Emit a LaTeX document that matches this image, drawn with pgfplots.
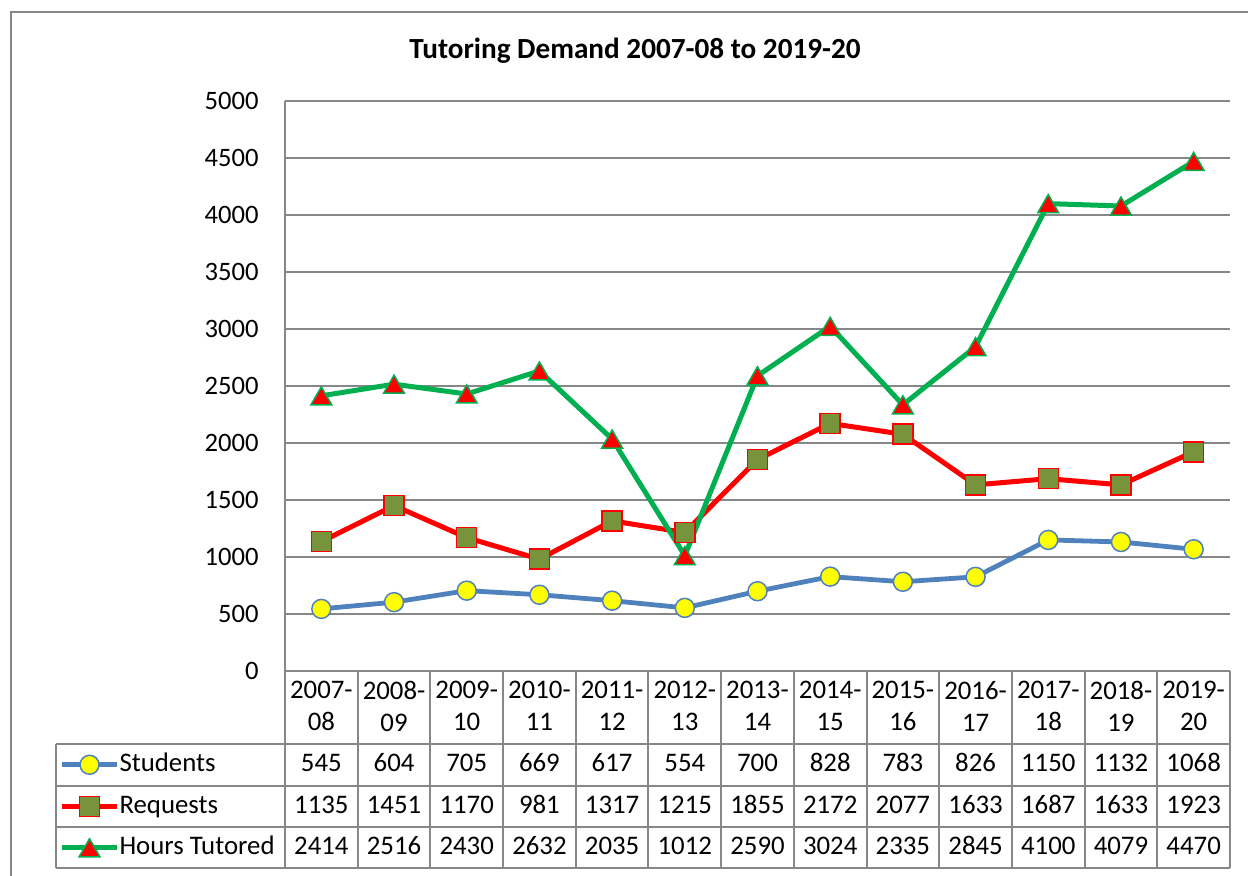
\documentclass[border=0pt]{standalone}
\usepackage{pgfplots}
\pgfplotsset{compat=1.18}
\usepackage{pgfplotstable}
\usepackage{fontspec}
\setmainfont{Carlito}
\definecolor{sblue}{HTML}{4F81BD}
\definecolor{syellow}{HTML}{FFFF00}
\definecolor{rred}{HTML}{FF0000}
\definecolor{rolive}{HTML}{77933C}
\definecolor{hgreen}{HTML}{00B050}
\definecolor{gridgray}{HTML}{878787}
\newcommand{\tickfont}{\fontsize{13.3}{16}\selectfont}
\newcommand{\tabfont}{\fontsize{13.4}{15.85}\selectfont}

\pgfplotstableread{
x students requests hours
0 545 1135 2414
1 604 1451 2516
2 705 1170 2430
3 669 981 2632
4 617 1317 2035
5 554 1215 1012
6 700 1855 2590
7 828 2172 3024
8 783 2077 2335
9 826 1633 2845
10 1150 1687 4100
11 1132 1633 4079
12 1068 1923 4470
}\datatable

\pgfplotsset{
  keyimg/.style={legend image code/.code={
    \path[draw=none,fill=none] (0pt,0pt) (30.9pt,0pt);
    \draw[##1, mark repeat=2, mark phase=2] plot coordinates {(3pt,0pt) (16.75pt,0pt) (30.5pt,0pt)};
  }}
}

\begin{document}
\begin{tikzpicture}
\useasboundingbox (0,0) rectangle (624pt,-437.5pt);
\begin{scope}[x=0.5pt,y=-0.5pt]
  \draw[gridgray, line width=0.75pt] (11,880) -- (11,12) -- (1260,12);
\end{scope}

\node[font=\bfseries\fontsize{14.6}{17}\selectfont, anchor=base, inner sep=0pt] at (317.5pt,-29pt) {Tutoring Demand 2007-08 to 2019-20};

\begin{axis}[
  scale only axis, width=472.5pt, height=285pt,
  at={(142.5pt,-335.5pt)}, anchor=south west,
  xmin=-0.5, xmax=12.5, ymin=0, ymax=5000,
  xtick={0,...,12},
  xticklabels={{2007-\\08},{2008-\\09},{2009-\\10},{2010-\\11},{2011-\\12},{2012-\\13},{2013-\\14},{2014-\\15},{2015-\\16},{2016-\\17},{2017-\\18},{2018-\\19},{2019-\\20}},
  ytick={0,500,...,5000},
  axis x line*=bottom, axis y line*=left,
  axis line style={gridgray, line width=1pt},
  ymajorgrids, grid style={gridgray, line width=1pt},
  major tick length=0pt, tick style={draw=none},
  yticklabel style={font=\tickfont, inner sep=0pt, xshift=-13pt, anchor=east},
  xticklabel style={font=\tabfont, align=center, inner sep=0pt, anchor=north, yshift=-5pt},
  /pgf/number format/assume math mode=true,
  /pgf/number format/1000 sep={},
  scaled y ticks=false,
  clip=false,
  legend style={at={(axis description cs:-0.2423,-0.1281)}, anchor=north west, draw=none, fill=none,
    inner sep=0pt, outer sep=0pt, row sep=0pt, column sep=0pt, font=\tabfont,
    nodes={inner sep=0pt, text height=13.85pt, text depth=6.9pt}},
  legend cell align=left,
]
\addplot[keyimg, sblue, line width=2.4pt, mark=*, mark size=4.75pt,
  mark options={fill=syellow, draw=sblue, line width=0.75pt}] table[x=x, y=students]{\datatable};
\addlegendentry{Students}
\addplot[keyimg, rred, line width=2.5pt, mark=square*, mark size=5pt,
  mark options={fill=rolive, draw=rred, line width=0.75pt}] table[x=x, y=requests]{\datatable};
\addlegendentry{Requests}
\addplot[keyimg, hgreen, line width=2.5pt, mark=triangle*, mark size=6pt,
  mark options={fill=rred, draw=hgreen, line width=0.75pt, yshift=-1.5pt}] table[x=x, y=hours]{\datatable};
\addlegendentry{Hours Tutored}
\end{axis}

\begin{axis}[
  scale only axis, width=472.5pt, height=98.5pt,
  at={(142.5pt,-434pt)}, anchor=south west,
  xmin=-0.5, xmax=12.5, ymin=-868, ymax=-671,
  hide axis, clip=false,
  nodes near coords, point meta=explicit symbolic,
  every node near coord/.style={anchor=base, inner sep=0pt, font=\tabfont, text=black},
]
\addplot[draw=none] table[x=x, y expr=-771.7, meta=students]{\datatable};
\addplot[draw=none] table[x=x, y expr=-813.0, meta=requests]{\datatable};
\addplot[draw=none] table[x=x, y expr=-854.3, meta=hours]{\datatable};
\end{axis}

\begin{scope}[x=0.5pt,y=-0.5pt, gridgray, line width=1pt]
  \foreach \i in {0,...,13} \draw ({285+72.69*\i},671) -- ({285+72.69*\i},868);
  \foreach \yy in {744,785.7,826.7,868} \draw (56,\yy) -- (1230,\yy);
  \draw (56,744) -- (56,868);
\end{scope}
\end{tikzpicture}
\end{document}
